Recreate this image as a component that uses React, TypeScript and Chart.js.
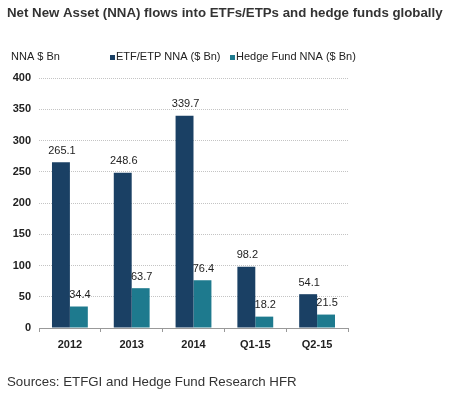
import React, { useEffect, useRef } from "react";
import { Chart, registerables } from "chart.js";

Chart.register(...registerables);

const categories = ["2012", "2013", "2014", "Q1-15", "Q2-15"];
const etfValues = [265.1, 248.6, 339.7, 98.2, 54.1];
const hedgeValues = [34.4, 63.7, 76.4, 18.2, 21.5];
const seriesNames = ["ETF/ETP NNA ($ Bn)", "Hedge Fund NNA ($ Bn)"];
const titleText = "Net New Asset (NNA) flows into ETFs/ETPs and hedge funds globally";
const axisTitle = "NNA $ Bn";
const sourceText = "Sources: ETFGI and Hedge Fund Research HFR";

const DARK = "#1a4064";
const TEAL = "#1e7a8e";
const FONT = "'Liberation Sans', Arial, sans-serif";

function fitText(ctx: any, text: string, weight: string, target: number) {
  let size = 14;
  ctx.font = `${weight} ${size}px ${FONT}`;
  const w = ctx.measureText(text).width;
  size = (size * target) / w;
  ctx.font = `${weight} ${size}px ${FONT}`;
}

const decorPlugin = {
  id: "decor",
  afterDraw(chart: any) {
    const ctx = chart.ctx;
    ctx.save();
    ctx.textBaseline = "middle";
    ctx.textAlign = "left";
    // title
    ctx.fillStyle = "#333333";
    fitText(ctx, titleText, "bold", 436);
    ctx.fillText(titleText, 7, 13);
    // axis title
    ctx.font = `11px ${FONT}`;
    ctx.fillStyle = "#222222";
    ctx.fillText(axisTitle, 11, 57);
    // legend
    const items = [
      { x: 110, color: DARK, text: seriesNames[0] },
      { x: 230, color: TEAL, text: seriesNames[1] },
    ];
    for (const it of items) {
      ctx.fillStyle = it.color;
      ctx.fillRect(it.x, 55, 5, 5);
      ctx.fillStyle = "#222222";
      ctx.fillText(it.text, it.x + 6, 57);
    }
    // data labels
    ctx.textAlign = "center";
    ctx.textBaseline = "bottom";
    ctx.font = `11px ${FONT}`;
    ctx.fillStyle = "#222222";
    chart.data.datasets.forEach((ds: any, i: number) => {
      const meta = chart.getDatasetMeta(i);
      meta.data.forEach((bar: any, j: number) => {
        ctx.fillText(ds.data[j].toFixed(1), bar.x + 1, bar.y - 6);
      });
    });
    // source
    ctx.textAlign = "left";
    ctx.textBaseline = "middle";
    ctx.fillStyle = "#333333";
    fitText(ctx, sourceText, "normal", 290);
    ctx.fillText(sourceText, 7, 382);
    ctx.restore();
  },
};

export default function App() {
  const ref = useRef<HTMLCanvasElement | null>(null);
  useEffect(() => {
    if (!ref.current) return;
    const chart = new Chart(ref.current, {
      type: "bar",
      data: {
        labels: categories,
        datasets: [
          { label: seriesNames[0], data: etfValues, backgroundColor: DARK },
          { label: seriesNames[1], data: hedgeValues, backgroundColor: TEAL },
        ],
      },
      options: {
        animation: false,
        responsive: false,
        maintainAspectRatio: false,
        layout: { padding: { left: 0, right: 102, top: 78, bottom: 0 } },
        datasets: {
          bar: { categoryPercentage: 0.58, barPercentage: 1 },
        },
        plugins: {
          legend: { display: false },
          title: { display: false },
          tooltip: { enabled: false },
        },
        scales: {
          x: {
            afterFit(scale: any) {
              scale.height = 71;
            },
            grid: {
              offset: true,
              drawOnChartArea: false,
              drawTicks: true,
              tickLength: 4,
              color: "#999999",
            },
            border: { color: "#999999", width: 1 },
            ticks: {
              color: "#222222",
              font: { family: FONT, size: 11, weight: "bold" },
              padding: 6,
            },
          },
          y: {
            min: 0,
            max: 400,
            afterFit(scale: any) {
              scale.width = 39;
            },
            ticks: {
              stepSize: 50,
              color: "#222222",
              font: { family: FONT, size: 11, weight: "bold" },
              padding: 8,
            },
            grid: {
              color: "#c4c4c4",
              drawTicks: false,
            },
            border: { display: false, dash: [1, 1] },
          },
        },
      },
      plugins: [decorPlugin],
    });
    return () => chart.destroy();
  }, []);
  return (
    <div style={{ position: "fixed", left: 0, top: 0, width: 450, height: 399, background: "#fff" }}>
      <canvas ref={ref} width={450} height={399} style={{ width: 450, height: 399 }} />
    </div>
  );
}
